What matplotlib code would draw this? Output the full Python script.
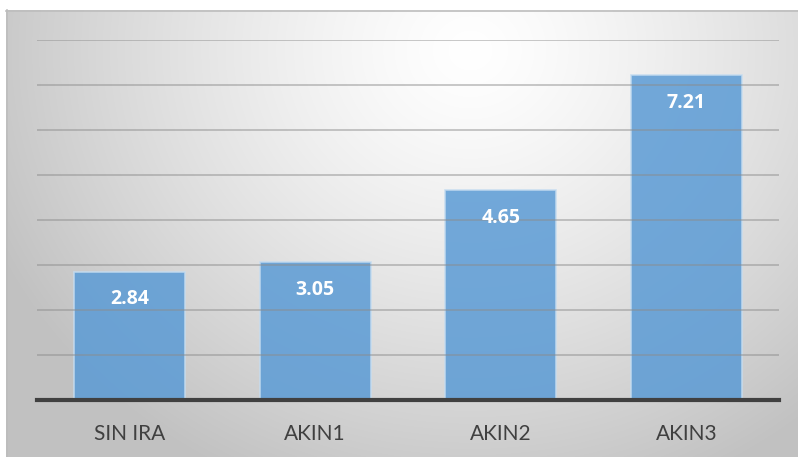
import numpy as np
import matplotlib.pyplot as plt

categories = ['SIN IRA', 'AKIN1', 'AKIN2', 'AKIN3']
values = [2.84, 3.05, 4.65, 7.21]

W, H = 798, 457
fig = plt.figure(figsize=(W / 100, H / 100), dpi=100)
fig.patch.set_facecolor('white')

# background panel with radial gradient (pixel coords, y down)
bg = fig.add_axes([0, 0, 1, 1])
bg.set_xlim(0, W)
bg.set_ylim(H, 0)
bg.axis('off')
xx, yy = np.meshgrid(np.arange(6, W), np.arange(10, H))
d = np.sqrt((xx - 470) ** 2 + ((yy - 50) * 1.1) ** 2)
t = np.clip(d / 520, 0, 1) ** 1.3
shade = 1.0 - 0.24 * t
img = np.dstack([shade, shade, shade])
bg.imshow(img, extent=(6, W, H, 10), aspect='auto', interpolation='bilinear')
bg.plot([6, W], [10.5, 10.5], color='#bdbdbd', lw=1.2)
bg.plot([6.5, 6.5], [10, H], color='#bdbdbd', lw=1.2)

# main chart
ax = fig.add_axes([37 / W, (H - 399.5) / H, (779 - 37) / W, 360 / H])
ax.set_facecolor('none')
x = np.arange(len(categories))
ax.set_xlim(-0.5, len(categories) - 0.5)
ax.set_ylim(0, 8)
ax.set_yticks(np.arange(1, 9))
ax.yaxis.grid(True, color='#8c8c8c', lw=1.1, alpha=0.6)
ax.set_axisbelow(False)
for s in ['top', 'right', 'left']:
    ax.spines[s].set_visible(False)
ax.spines['bottom'].set_color('#404040')
ax.spines['bottom'].set_linewidth(3)
ax.spines['bottom'].set_zorder(5)
ax.tick_params(left=False, labelleft=False, bottom=False)

bars = ax.bar(x, values, width=0.6, color='#5b9bd5', alpha=0.85,
              edgecolor='#c5dcf0', linewidth=1.2, zorder=1)
ax.set_xticks(x)
ax.set_xticklabels(categories, fontsize=15, color='#404040', family='Lato')
ax.tick_params(axis='x', pad=14)

for xi, v in zip(x, values):
    ax.annotate(f'{v:.2f}', (xi, v), xytext=(0, -20), textcoords='offset points',
                ha='center', va='center', color='white', fontsize=14,
                fontweight='bold', family='Open Sans', zorder=6)

fig.savefig('out.png', dpi=100)
